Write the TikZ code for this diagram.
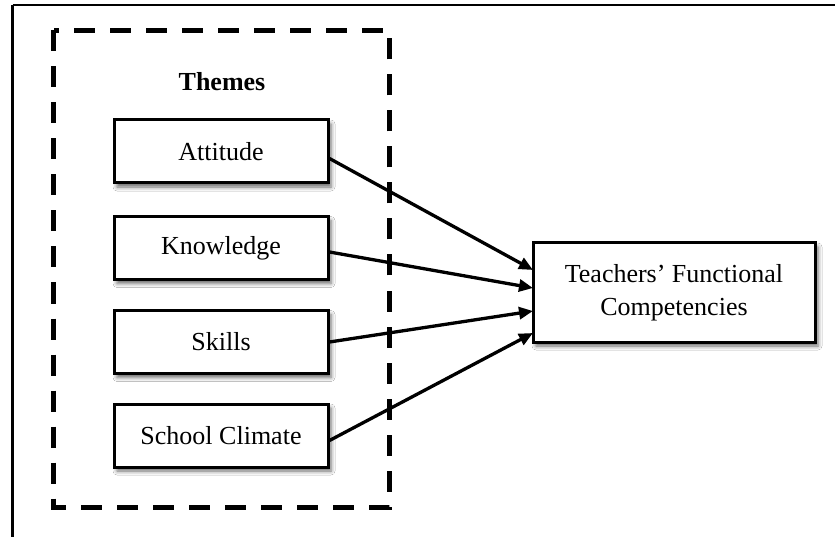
\documentclass[tikz,border=0pt]{standalone}
\usepackage{fontspec}
\setmainfont{Liberation Serif}
\usetikzlibrary{arrows.meta,shadows.blur}
\begin{document}
\begin{tikzpicture}[x=1pt,y=-1pt,
  theme/.style={draw=black, line width=3pt, fill=white, minimum width=214pt, minimum height=63pt, inner sep=0pt,
    font=\fontsize{26}{33}\selectfont,
    blur shadow={shadow xshift=3pt, shadow yshift=-4pt, shadow blur radius=4pt, shadow opacity=60}},
  target/.style={theme, minimum width=282pt, minimum height=99pt, align=center},
  link/.style={line width=3.3pt, -{Triangle[length=14pt,width=12pt]}},
  frameline/.style={line width=2.5pt},
  dashbox/.style={line width=5pt, dash pattern=on 21pt off 15pt}
]
\useasboundingbox (0,0) rectangle (835,537);
\fill[white] (0,0) rectangle (835,537);
% outer frame (top and left edges)
\draw[frameline] (12.5,5) -- (835,5);
\draw[frameline] (12.5,5) -- (12.5,537);
% dashed group
\draw[dashbox] (53.5,30.5) rectangle (389.5,507);
\node[font=\fontsize{26}{33}\selectfont\bfseries] (themes) at (222,82) {Themes};
% theme boxes
\node[theme] (att) at (221,151.5) {Attitude};
\node[theme] (kno) at (221,248) {Knowledge};
\node[theme] (ski) at (221,342) {Skills};
\node[theme] (sch) at (221,435.5) {School Climate};
% target
\node[target] (tfc) at (674,292.5) {Teachers’ Functional\\Competencies};
% arrow end points on the target's left side
\coordinate (e1) at (533,270);
\coordinate (e2) at (533,288);
\coordinate (e3) at (533,311);
\coordinate (e4) at (533,333);
\draw[link] ([yshift=-7pt]att.east) -- (e1);
\draw[link] ([yshift=-4pt]kno.east) -- (e2);
\draw[link] (ski.east) -- (e3);
\draw[link] ([yshift=-5pt]sch.east) -- (e4);
\end{tikzpicture}
\end{document}
